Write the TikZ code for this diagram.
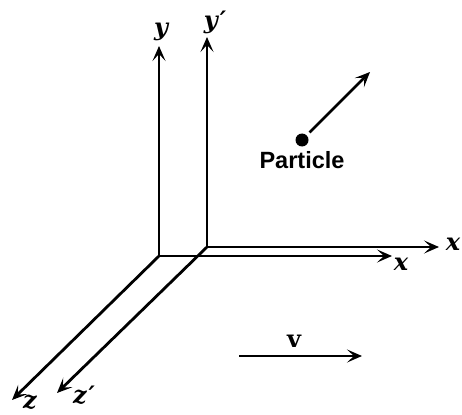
\documentclass[tikz,border=0pt]{standalone}
\usepackage{fontspec}
\newfontfamily\labelfont{Liberation Sans}
\newfontfamily\axisfont{DejaVu Serif}
\usetikzlibrary{arrows.meta, positioning}

\begin{document}
\begin{tikzpicture}[x=1pt, y=-1pt,
  axis/.style={-{Stealth[length=15pt, width=13pt, inset=7pt]}, line width=2.8pt},
  axlabel/.style={font=\axisfont\bfseries\itshape\fontsize{24}{24}\selectfont, inner sep=1pt}]
  \useasboundingbox (0,0) rectangle (462,414);
  % frame S
  \coordinate (O) at (159,256);
  \coordinate (ytip) at (159,46);
  \coordinate (xtip) at (392,256);
  \coordinate (ztip) at (12,400);
  \draw[axis] (O) -- (ytip);
  \draw[axis] (O) -- (xtip);
  \draw[axis] (O) -- (ztip);
  \node (y) [axlabel] at (161,32) {y};
  \node (x) [axlabel] at (401,264) {x};
  \node (z) [axlabel] at (30,402) {z};
  % frame S'
  \coordinate (Op) at (207,247);
  \coordinate (yptip) at (207,37);
  \coordinate (xptip) at (439,247);
  \coordinate (zptip) at (57,393);
  \draw[axis] (Op) -- (yptip);
  \draw[axis] (Op) -- (xptip);
  \draw[axis] (Op) -- (zptip);
  \node (yp) [axlabel] at (215,22) {y\kern2pt′};
  \node (xp) [axlabel] at (453,244) {x};
  \node (zp) [axlabel] at (84,395) {z\kern2pt′};
  % particle
  \node (particle) [circle, fill, inner sep=0pt, minimum size=13pt] at (302,140) {};
  \node (plabel) [below=4pt of particle, font=\labelfont\bfseries\fontsize{23.5}{24}\selectfont, inner sep=1pt] {Particle};
  \coordinate (ptip) at (370,72);
  \draw[axis, shorten <=4pt] (particle) -- (ptip);
  % frame velocity
  \coordinate (vstart) at (239,356);
  \coordinate (vend) at (362,356);
  \draw[axis] (vstart) -- (vend);
  \node (v) [font=\axisfont\bfseries\fontsize{24}{24}\selectfont, inner sep=1pt] at (294,341) {v};
\end{tikzpicture}
\end{document}
